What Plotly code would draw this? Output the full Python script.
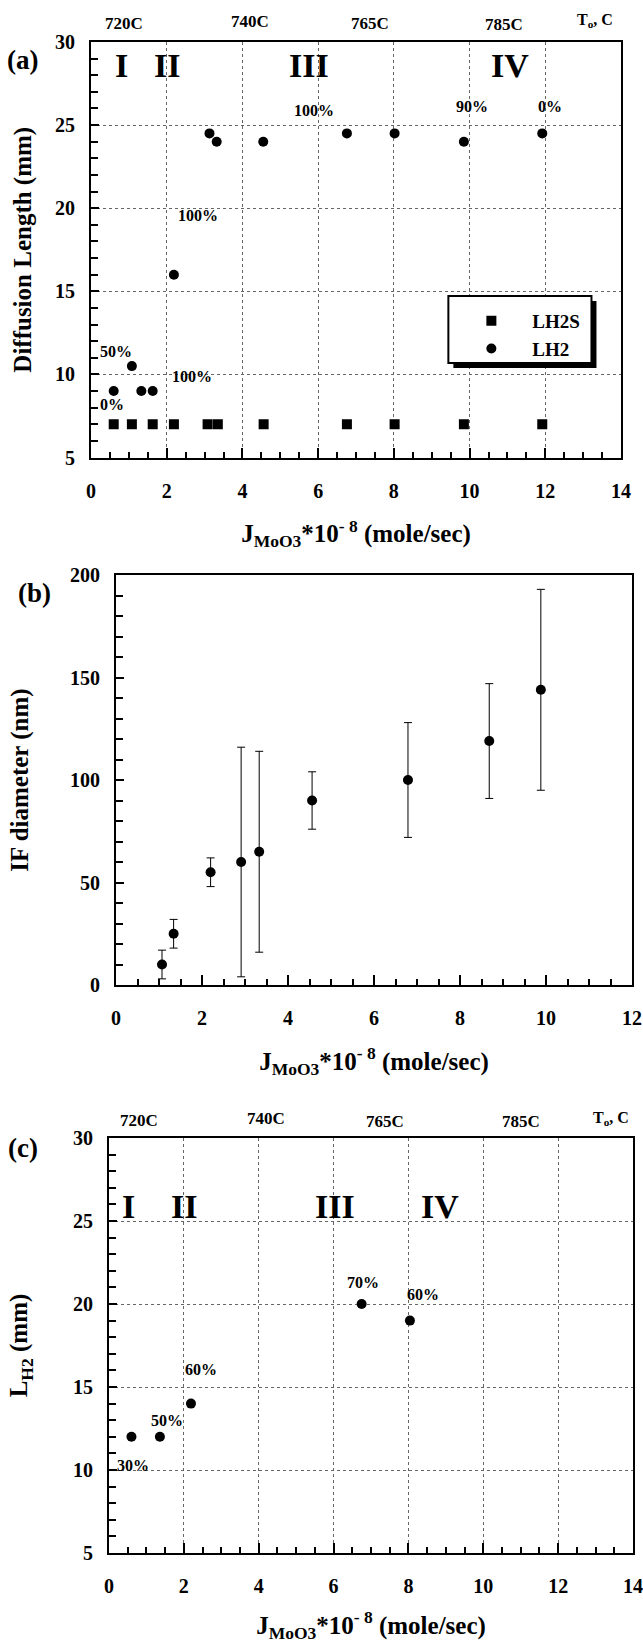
import plotly.graph_objects as go

W, H = 643, 1643
FONT = "Liberation Serif"

# ---------------- data ----------------
# Panel (a): diffusion length vs J_MoO3
a_lh2s_x = [0.60, 1.08, 1.63, 2.19, 3.08, 3.35, 4.56, 6.76, 8.02, 9.85, 11.92]
a_lh2s_y = [7.0, 7.0, 7.0, 7.0, 7.0, 7.0, 7.0, 7.0, 7.0, 7.0, 7.0]
a_lh2_x = [0.60, 1.08, 1.33, 1.63, 2.19, 3.13, 3.32, 4.55, 6.76, 8.02, 9.85, 11.92]
a_lh2_y = [9.0, 10.5, 9.0, 9.0, 16.0, 24.5, 24.0, 24.0, 24.5, 24.5, 24.0, 24.5]
a_pct_text = ["100%", "90%", "0%", "100%", "50%", "100%", "0%"]

# Panel (b): IF diameter vs J_MoO3
b_x = [1.07, 1.34, 2.20, 2.91, 3.33, 4.56, 6.79, 8.68, 9.88]
b_y = [10, 25, 55, 60, 65, 90, 100, 119, 144]
b_err = [7, 7, 7, 56, 49, 14, 28, 28, 49]

# Panel (c): L_H2 vs J_MoO3
c_x = [0.60, 1.36, 2.19, 6.75, 8.04]
c_y = [12, 12, 14, 20, 19]
c_pct_text = ["30%", "50%", "60%", "70%", "60%"]

temp_labels = ["720C", "740C", "765C", "785C"]
region_labels = ["I", "II", "III", "IV"]

# ---------------- label placement (positions only) ----------------
a_pct_pos = [(5.88, 25.9), (10.07, 26.1), (12.13, 26.1), (2.83, 19.56),
             (0.66, 11.35), (2.67, 9.85), (0.55, 8.2)]
c_pct_pos = [(0.63, 10.26), (1.55, 12.96), (2.47, 16.05), (6.78, 21.3), (8.4, 20.6)]
a_temp_pos = [(0.86, 23), (4.2, 22), (7.37, 23), (10.92, 24)]
c_temp_pos = [(0.79, 1120), (4.2, 1118), (7.38, 1121), (11.0, 1121)]
a_region_pos = [0.8, 2.0, 5.76, 11.06]
c_region_pos = [0.52, 2.0, 6.03, 8.85]

# pixel boxes of the three panels: (left, right, top, bottom)
box_a = (91, 621, 42, 457.5)
box_b = (116, 632, 575, 985)
box_c = (109, 633, 1138, 1553)


def px(x):
    return x / W


def py(y):
    return 1 - y / H


def bold(size):
    return dict(family=FONT, size=size, color="black", weight="bold")


# legend frame, placed in data units of panel (a) converted to pixels
def ax_px(box, rng, v):
    return box[0] + (v - rng[0]) / (rng[1] - rng[0]) * (box[1] - box[0])


legend_box = (ax_px(box_a, [0, 14], 9.44), ax_px(box_a, [0, 14], 13.22), 296, 363)

XTITLE = "J<sub>MoO3</sub>*10<sup>- 8</sup> (mole/sec)"
GRID = "#666"

fig = go.Figure()

fig.add_trace(go.Scatter(x=a_lh2s_x, y=a_lh2s_y, mode="markers", name="LH2S",
                         marker=dict(symbol="square", size=10, color="black"),
                         xaxis="x", yaxis="y"))
fig.add_trace(go.Scatter(x=a_lh2_x, y=a_lh2_y, mode="markers", name="LH2",
                         marker=dict(symbol="circle", size=10, color="black"),
                         xaxis="x", yaxis="y"))
fig.add_trace(go.Scatter(x=b_x, y=b_y, mode="markers", name="IF diameter",
                         marker=dict(symbol="circle", size=10, color="black"),
                         error_y=dict(type="data", array=b_err, visible=True,
                                      color="black", thickness=1, width=4),
                         showlegend=False, xaxis="x2", yaxis="y2"))
fig.add_trace(go.Scatter(x=c_x, y=c_y, mode="markers", name="L_H2",
                         marker=dict(symbol="circle", size=10, color="black"),
                         showlegend=False, xaxis="x3", yaxis="y3"))


def xaxis(box, rng, anchor, grid):
    return dict(
        domain=[px(box[0]), px(box[1])], range=rng, anchor=anchor,
        tickmode="linear", tick0=0, dtick=2,
        showline=True, linecolor="black", linewidth=2, mirror=True,
        ticks="inside", ticklen=10, tickwidth=1.5, tickcolor="black",
        minor=dict(dtick=0.5, ticks="inside", ticklen=6, tickwidth=1.5,
                   tickcolor="black", showgrid=False),
        showgrid=grid, griddash="dot", gridcolor=GRID, gridwidth=1,
        zeroline=False, automargin=False,
        tickfont=bold(20), ticklabelstandoff=14,
        title=dict(text=XTITLE, font=bold(25), standoff=24),
    )


def yaxis(box, rng, anchor, dtick, minor, grid, title, standoff):
    return dict(
        domain=[py(box[3]), py(box[2])], range=rng, anchor=anchor,
        tickmode="linear", tick0=rng[0], dtick=dtick,
        showline=True, linecolor="black", linewidth=2, mirror=True,
        ticks="inside", ticklen=8, tickwidth=1.5, tickcolor="black",
        minor=dict(dtick=minor, ticks="inside", ticklen=7, tickwidth=1.5,
                   tickcolor="black", showgrid=False),
        showgrid=grid, griddash="dot", gridcolor=GRID, gridwidth=1,
        zeroline=False, automargin=False,
        tickfont=bold(20), ticklabelstandoff=10,
        title=dict(text=title, font=bold(25), standoff=standoff),
    )


fig.update_layout(
    width=W, height=H, template="none",
    margin=dict(l=0, r=0, t=0, b=0),
    paper_bgcolor="white", plot_bgcolor="white",
    font=bold(18),
    xaxis=xaxis(box_a, [0, 14], "y", True),
    yaxis=yaxis(box_a, [5, 30], "x", 5, 1, True, "Diffusion Length (mm)", 16),
    xaxis2=xaxis(box_b, [0, 12], "y2", False),
    yaxis2=yaxis(box_b, [0, 200], "x2", 50, 10, False, "IF diameter (nm)", 34),
    xaxis3=xaxis(box_c, [0, 14], "y3", True),
    yaxis3=yaxis(box_c, [5, 30], "x3", 5, 1, True, "L<sub>H2</sub> (mm)", 38),
    legend=dict(x=px(legend_box[0] + 2), y=py(legend_box[2] + 6),
                xanchor="left", yanchor="top",
                bgcolor="rgba(0,0,0,0)", borderwidth=0,
                font=bold(19), itemwidth=72, tracegroupgap=0),
    showlegend=True,
)

# legend frame with drop shadow
L, R, T, B = legend_box
fig.add_shape(type="rect", xref="paper", yref="paper",
              x0=px(L + 5), x1=px(R + 5), y0=py(B + 5), y1=py(T + 5),
              fillcolor="black", line=dict(width=0), layer="above")
fig.add_shape(type="rect", xref="paper", yref="paper",
              x0=px(L), x1=px(R), y0=py(B), y1=py(T),
              fillcolor="white", line=dict(color="black", width=2), layer="above")

ann = []
# panel letters
for txt, (x, y) in [("(a)", (22, 60)), ("(b)", (34, 593)), ("(c)", (23, 1148))]:
    ann.append(dict(text=txt, x=px(x), y=py(y), xref="paper", yref="paper",
                    showarrow=False, font=bold(27), xanchor="center", yanchor="middle"))

# temperature labels along top
for txt, (x, y) in zip(temp_labels, a_temp_pos):
    ann.append(dict(text=txt, x=x, y=py(y), xref="x", yref="paper",
                    showarrow=False, font=bold(17), yanchor="middle"))
for txt, (x, y) in zip(temp_labels, c_temp_pos):
    ann.append(dict(text=txt, x=x, y=py(y), xref="x3", yref="paper",
                    showarrow=False, font=bold(17), yanchor="middle"))
ann.append(dict(text="T<sub>o</sub>, C", x=13.3, y=py(20), xref="x", yref="paper",
                showarrow=False, font=bold(16), yanchor="middle"))
ann.append(dict(text="T<sub>o</sub>, C", x=13.4, y=py(1118), xref="x3", yref="paper",
                showarrow=False, font=bold(16), yanchor="middle"))

# region numerals
for txt, x in zip(region_labels, a_region_pos):
    ann.append(dict(text=txt, x=x, y=28.6, xref="x", yref="y",
                    showarrow=False, font=bold(34), yanchor="middle"))
for txt, x in zip(region_labels, c_region_pos):
    ann.append(dict(text=txt, x=x, y=25.85, xref="x3", yref="y3",
                    showarrow=False, font=bold(34), yanchor="middle"))

# percent labels
for txt, (x, y) in zip(a_pct_text, a_pct_pos):
    ann.append(dict(text=txt, x=x, y=y, xref="x", yref="y",
                    showarrow=False, font=bold(16), yanchor="middle"))
for txt, (x, y) in zip(c_pct_text, c_pct_pos):
    ann.append(dict(text=txt, x=x, y=y, xref="x3", yref="y3",
                    showarrow=False, font=bold(16), yanchor="middle"))

fig.update_layout(annotations=ann)

fig.write_html(
    "out.html",
    config={"displayModeBar": False},
    post_script="document.body.style.margin='0px'; document.body.style.overflow='hidden';",
)
